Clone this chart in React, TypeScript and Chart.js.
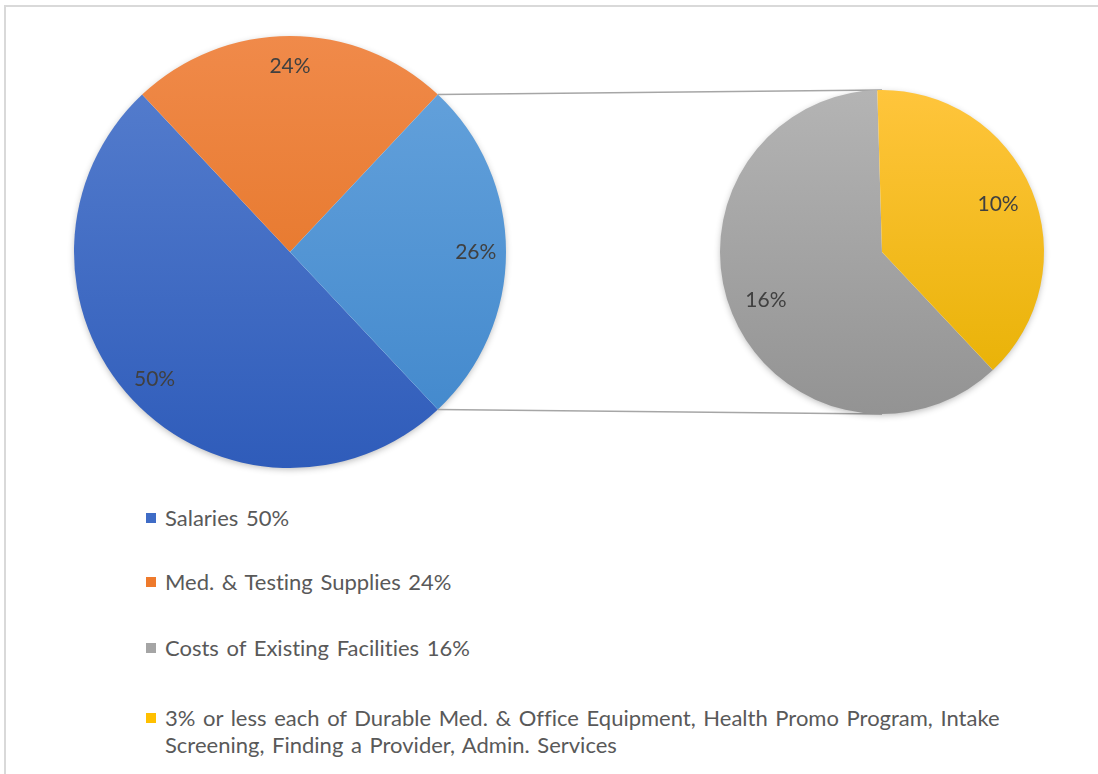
import React, { useEffect, useRef } from "react";
import { Chart, registerables } from "chart.js";

Chart.register(...registerables);

// ---------- data ----------
const mainCategories = ["Salaries", "Med. & Testing Supplies", "Other"];
const mainValues = [50, 24, 26];

const secondaryCategories = [
  "Costs of Existing Facilities",
  "3% or less each of Durable Med. & Office Equipment, Health Promo Program, Intake Screening, Finding a Provider, Admin. Services",
];
const secondaryValues = [16, 10];

const legendLabels = [
  "Salaries 50%",
  "Med. & Testing Supplies 24%",
  "Costs of Existing Facilities 16%",
  "3% or less each of Durable Med. & Office Equipment, Health Promo Program, Intake\nScreening, Finding a Provider, Admin. Services",
];

// ---------- styles ----------
const mainTopColors = ["#5880cf", "#f08a4a", "#67a4dd"];
const mainBottomColors = ["#2f5cba", "#e06c18", "#3f86cb"];
const secTopColors = ["#b4b4b4", "#ffc53c"];
const secBottomColors = ["#939393", "#e6b000"];
const legendSwatches = ["#3f6cc6", "#ee7a2c", "#a5a5a5", "#ffc000"];
const legendGaps = [0, 37, 39, 43];

const FONT = "Lato, 'Open Sans', sans-serif";
const W = 1098;
const H = 480;

function gradientFill(tops: string[], bottoms: string[]) {
  return (ctx: any) => {
    const chart = ctx.chart;
    const area = chart.chartArea;
    const i = ctx.dataIndex ?? 0;
    if (!area) return tops[i];
    const g = chart.ctx.createLinearGradient(0, area.top, 0, area.bottom);
    g.addColorStop(0, tops[i]);
    g.addColorStop(1, bottoms[i]);
    return g;
  };
}

const shadowPlugin = {
  id: "pieShadow",
  beforeDatasetsDraw(chart: any) {
    const arc = chart.getDatasetMeta(0).data[0];
    if (!arc) return;
    const { x, y, outerRadius } = arc.getProps(["x", "y", "outerRadius"], true);
    const ctx = chart.ctx;
    ctx.save();
    ctx.shadowColor = "rgba(0,0,0,0.30)";
    ctx.shadowBlur = 7;
    ctx.shadowOffsetY = 2;
    ctx.fillStyle = "#ffffff";
    ctx.beginPath();
    ctx.arc(x, y, outerRadius - 1, 0, Math.PI * 2);
    ctx.fill();
    ctx.restore();
  },
};

function labelPlugin(factor: number) {
  return {
    id: "sliceLabels",
    afterDatasetsDraw(chart: any) {
      const meta = chart.getDatasetMeta(0);
      const values = chart.data.datasets[0].data;
      const ctx = chart.ctx;
      ctx.save();
      ctx.font = `21px ${FONT}`;
      ctx.fillStyle = "#404040";
      ctx.textAlign = "center";
      ctx.textBaseline = "middle";
      meta.data.forEach((arc: any, i: number) => {
        const { x, y, startAngle, endAngle, outerRadius } = arc.getProps(
          ["x", "y", "startAngle", "endAngle", "outerRadius"],
          true
        );
        const mid = (startAngle + endAngle) / 2;
        const r = outerRadius * factor;
        ctx.fillText(`${values[i]}%`, x + Math.cos(mid) * r, y + Math.sin(mid) * r);
      });
      ctx.restore();
    },
  };
}

export default function App() {
  const mainRef = useRef<HTMLCanvasElement>(null);
  const secRef = useRef<HTMLCanvasElement>(null);

  useEffect(() => {
    if (!mainRef.current || !secRef.current) return;
    const total = mainValues.reduce((a, b) => a + b, 0);
    const other = mainValues[mainValues.length - 1];
    const rotation = 90 + (180 * other) / total;

    const main = new Chart(mainRef.current, {
      type: "pie",
      data: {
        labels: mainCategories,
        datasets: [
          {
            data: mainValues,
            backgroundColor: gradientFill(mainTopColors, mainBottomColors),
            borderWidth: 0,
            hoverBorderWidth: 0,
            hoverOffset: 0,
            offset: 0,
          } as any,
        ],
      },
      options: {
        responsive: false,
        animation: false,
        rotation,
        layout: { padding: { left: 74, top: 36, right: W - 506, bottom: H - 468 } },
        plugins: { legend: { display: false }, tooltip: { enabled: false } },
        events: [],
      },
      plugins: [shadowPlugin, labelPlugin(0.86)],
    });

    const connectorPlugin = {
      id: "connectors",
      beforeDatasetsDraw(chart: any) {
        const otherArc = main.getDatasetMeta(0).data[mainValues.length - 1] as any;
        const secArc = chart.getDatasetMeta(0).data[0];
        if (!otherArc || !secArc) return;
        const m = otherArc.getProps(["x", "y", "startAngle", "endAngle", "outerRadius"], true);
        const s = secArc.getProps(["x", "y", "outerRadius"], true);
        const ctx = chart.ctx;
        ctx.save();
        ctx.strokeStyle = "#a6a6a6";
        ctx.lineWidth = 1.5;
        ctx.beginPath();
        ctx.moveTo(m.x + Math.cos(m.startAngle) * m.outerRadius, m.y + Math.sin(m.startAngle) * m.outerRadius);
        ctx.lineTo(s.x, s.y - s.outerRadius);
        ctx.moveTo(m.x + Math.cos(m.endAngle) * m.outerRadius, m.y + Math.sin(m.endAngle) * m.outerRadius);
        ctx.lineTo(s.x, s.y + s.outerRadius);
        ctx.stroke();
        ctx.restore();
      },
    };

    const sec = new Chart(secRef.current, {
      type: "pie",
      data: {
        labels: secondaryCategories,
        datasets: [
          {
            data: secondaryValues,
            backgroundColor: gradientFill(secTopColors, secBottomColors),
            borderWidth: 0,
            hoverBorderWidth: 0,
            hoverOffset: 0,
            offset: 0,
          } as any,
        ],
      },
      options: {
        responsive: false,
        animation: false,
        rotation,
        layout: { padding: { left: 720, top: 90, right: W - 1044, bottom: H - 414 } },
        plugins: { legend: { display: false }, tooltip: { enabled: false } },
        events: [],
      },
      plugins: [connectorPlugin, shadowPlugin, labelPlugin(0.775)],
    });

    return () => {
      sec.destroy();
      main.destroy();
    };
  }, []);

  return (
    <div
      style={{
        position: "fixed",
        left: 0,
        top: 0,
        width: W,
        height: 774,
        overflow: "hidden",
        background: "#ffffff",
        fontFamily: FONT,
      }}
    >
      <div
        style={{
          position: "absolute",
          left: 4,
          top: 5,
          width: W + 20,
          height: 800,
          borderTop: "2px solid #d9d9d9",
          borderLeft: "2px solid #d9d9d9",
          boxSizing: "border-box",
        }}
      />
      <div style={{ position: "absolute", left: 0, top: 0, width: W, height: H }}>
        <canvas ref={mainRef} width={W} height={H} style={{ position: "absolute", left: 0, top: 0 }} />
        <canvas ref={secRef} width={W} height={H} style={{ position: "absolute", left: 0, top: 0 }} />
      </div>
      <div
        style={{
          position: "absolute",
          left: 146,
          top: 504,
          display: "flex",
          flexDirection: "column",
          fontSize: 22,
          lineHeight: "27px",
          wordSpacing: "2px",
          fontVariantLigatures: "none",
          color: "#595959",
        }}
      >
        {legendLabels.map((label, i) => (
          <div key={i} style={{ display: "flex", alignItems: "flex-start", marginTop: legendGaps[i] }}>
            <span
              style={{
                display: "inline-block",
                width: 10,
                height: 10,
                marginTop: 9,
                marginRight: 9,
                background: legendSwatches[i],
                flex: "none",
              }}
            />
            <span style={{ whiteSpace: "pre" }}>{label}</span>
          </div>
        ))}
      </div>
    </div>
  );
}
